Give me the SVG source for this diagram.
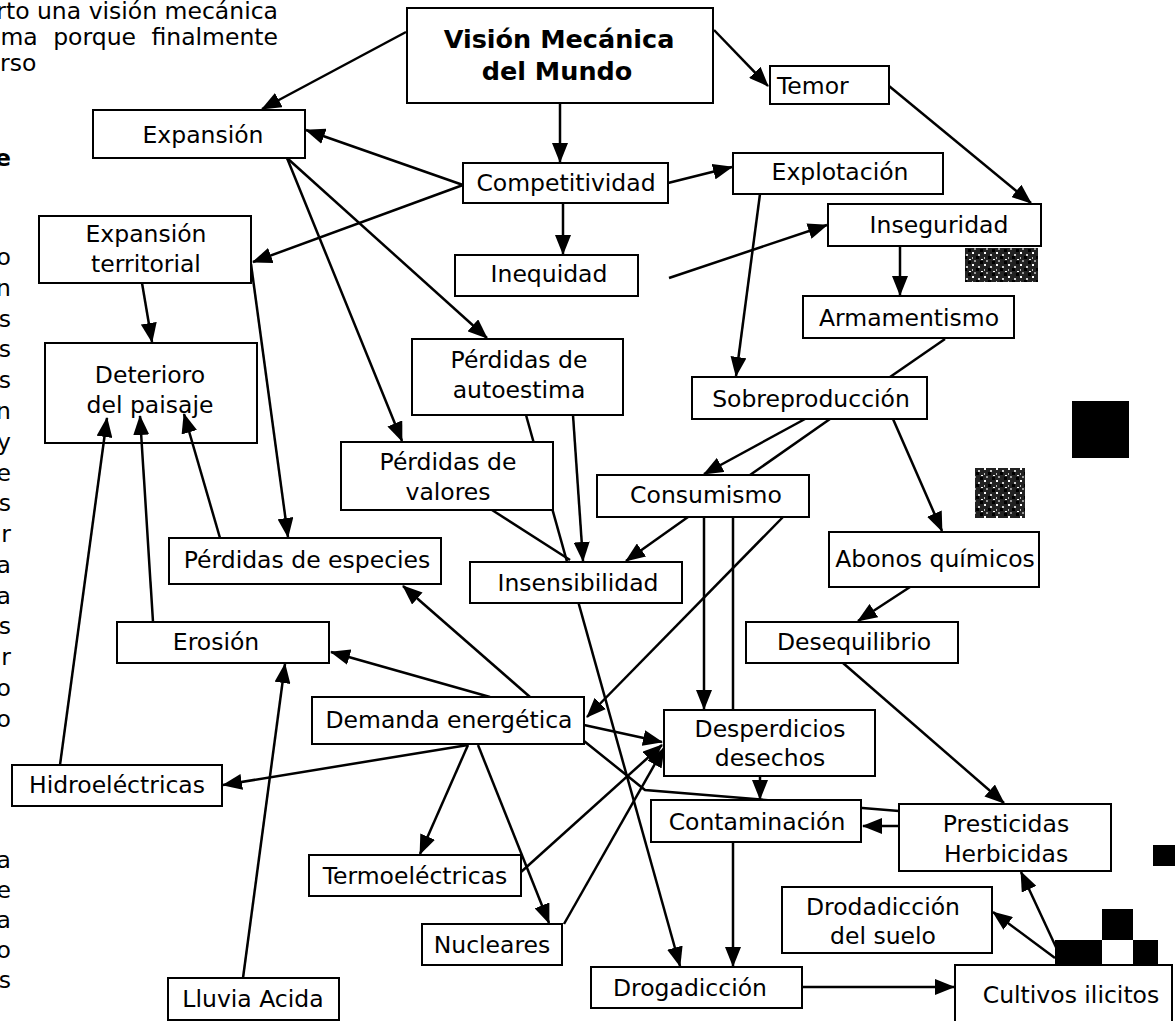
<svg xmlns="http://www.w3.org/2000/svg" width="1175" height="1021" viewBox="0 0 1175 1021">
<defs>
<marker id="ah" markerUnits="userSpaceOnUse" markerWidth="20" markerHeight="16" refX="19" refY="8" orient="auto">
<path d="M0,0 L20,8 L0,16 z" fill="#000"/>
</marker>
<pattern id="noise" width="12" height="12" patternUnits="userSpaceOnUse">
<rect width="12" height="12" fill="#222"/>
<rect x="0" y="0" width="2" height="2" fill="#fff"/>
<rect x="6" y="2" width="2" height="2" fill="#ccc"/>
<rect x="9" y="7" width="2" height="1" fill="#fff"/>
<rect x="2" y="8" width="2" height="2" fill="#999"/>
<rect x="4" y="4" width="3" height="3" fill="#000"/>
<rect x="8" y="9" width="3" height="3" fill="#000"/>
<rect x="0" y="5" width="1" height="2" fill="#bbb"/>
</pattern>
<style>
.box{fill:#fff;stroke:#000;stroke-width:2}
.open{fill:none;stroke:#000;stroke-width:2}
.t{font-family:"DejaVu Sans",Verdana,sans-serif;font-size:23.5px;text-anchor:middle;fill:#000}
.ts{font-family:"DejaVu Sans",Verdana,sans-serif;font-size:23.5px;fill:#000}
.b{font-family:"DejaVu Sans",Verdana,sans-serif;font-size:25.5px;font-weight:bold;text-anchor:middle;fill:#000}
.e{font-family:"DejaVu Sans",Verdana,sans-serif;font-size:23.5px;text-anchor:end;fill:#000}
.c{stroke:#000;stroke-width:2.5;fill:none}
.a{marker-end:url(#ah)}
</style>
</defs>
<rect width="1175" height="1021" fill="#fff"/>

<!-- cut-off page text at left -->
<g id="margin-text">
<text class="e" x="278" y="19">rto una visión mecánica</text>
<text class="e" x="278" y="45" word-spacing="8">ma porque finalmente</text>
<text class="ts" x="0" y="71">rso</text>
<text class="e" x="11" y="166" font-weight="bold">e</text>
<text class="e" x="11" y="265">o</text>
<text class="e" x="11" y="296">n</text>
<text class="e" x="11" y="327">s</text>
<text class="e" x="11" y="357">s</text>
<text class="e" x="11" y="388">s</text>
<text class="e" x="11" y="419">n</text>
<text class="e" x="11" y="450">y</text>
<text class="e" x="11" y="481">e</text>
<text class="e" x="11" y="511">s</text>
<text class="e" x="11" y="542">r</text>
<text class="e" x="11" y="573">a</text>
<text class="e" x="11" y="604">a</text>
<text class="e" x="11" y="634">s</text>
<text class="e" x="11" y="665">r</text>
<text class="e" x="11" y="696">o</text>
<text class="e" x="11" y="727">o</text>
<text class="e" x="11" y="868">a</text>
<text class="e" x="11" y="898">e</text>
<text class="e" x="11" y="928">a</text>
<text class="e" x="11" y="958">o</text>
<text class="e" x="11" y="988">s</text>
</g>

<g id="connectors">
<path class="c a" d="M406,32 L262,109"/>
<path class="c a" d="M560,103 L560,162"/>
<path class="c a" d="M714,30 L768,86"/>
<path class="c a" d="M889,86 L1031,203"/>
<path class="c a" d="M463,185 L306,130"/>
<path class="c a" d="M463,185 L253,262"/>
<path class="c a" d="M668,183 L732,167"/>
<path class="c a" d="M563,203 L563,254"/>
<path class="c a" d="M669,278 L827,225"/>
<path class="c a" d="M760,194 L736,376"/>
<path class="c a" d="M900,246 L900,295"/>
<path class="c" d="M945,339 L890,377"/>
<path class="c a" d="M805,419 L704,474"/>
<path class="c" d="M830,419 L750,475"/>
<path class="c a" d="M783,517 L587,717"/>
<path class="c a" d="M893,419 L942,531"/>
<path class="c a" d="M910,587 L858,621"/>
<path class="c a" d="M843,663 L1004,803"/>
<path class="c a" d="M688,517 L626,561"/>
<path class="c a" d="M704,517 L704,709"/>
<path class="c" d="M733,517 L733,710"/>
<path class="c a" d="M526,415 L680,966"/>
<path class="c a" d="M573,415 L583,561"/>
<path class="c" d="M492,510 L570,560"/>
<path class="c a" d="M287,158 L487,338"/>
<path class="c a" d="M287,158 L402,441"/>
<path class="c a" d="M142,283 L152,342"/>
<path class="c a" d="M251,264 L288,537"/>
<path class="c a" d="M220,538 L184,414"/>
<path class="c a" d="M153,622 L140,416"/>
<path class="c a" d="M60,765 L107,418"/>
<path class="c a" d="M530,697 L403,586"/>
<path class="c a" d="M490,697 L331,652"/>
<path class="c a" d="M243,978 L285,664"/>
<path class="c a" d="M468,745 L223,785"/>
<path class="c a" d="M468,745 L420,854"/>
<path class="c a" d="M478,745 L549,923"/>
<path class="c a" d="M584,725 L662,742"/>
<path class="c" d="M584,741 L645,790 L899,811"/>
<path class="c a" d="M760,776 L760,799"/>
<path class="c a" d="M521,872 L662,745"/>
<path class="c a" d="M564,924 L664,748"/>
<path class="c a" d="M733,842 L733,966"/>
<path class="c a" d="M802,987 L954,987"/>
<path class="c a" d="M1062,960 L1021,872"/>
<path class="c a" d="M1055,958 L993,912"/>
<path class="c a" d="M899,826 L863,826"/>
</g>

<g id="vision"><rect class="box" x="407" y="8" width="306" height="95" stroke-width="2.5"/><text class="b" x="559" y="48">Visión Mecánica</text><text class="b" x="557" y="80">del Mundo</text></g>
<g id="temor"><rect class="box" x="770" y="66" width="119" height="38"/><text class="ts" x="777" y="94">Temor</text></g>
<g id="expansion"><rect class="box" x="93" y="110" width="212" height="48"/><text class="t" x="203" y="143">Expansión</text></g>
<g id="competitividad"><rect class="box" x="463" y="163" width="205" height="40"/><text class="t" x="566" y="191">Competitividad</text></g>
<g id="explotacion"><rect class="box" x="733" y="153" width="210" height="41"/><text class="t" x="840" y="180">Explotación</text></g>
<g id="inseguridad"><rect class="box" x="828" y="204" width="213" height="42"/><text class="t" x="939" y="233">Inseguridad</text></g>
<g id="expansion-territorial"><rect class="box" x="39" y="216" width="212" height="67"/><text class="t" x="146" y="242">Expansión</text><text class="t" x="146" y="272">territorial</text></g>
<g id="inequidad"><rect class="box" x="455" y="255" width="183" height="41"/><text class="t" x="549" y="282">Inequidad</text></g>
<g id="armamentismo"><rect class="box" x="803" y="296" width="211" height="42"/><text class="t" x="909" y="326">Armamentismo</text></g>
<g id="deterioro"><rect class="open" x="45" y="343" width="212" height="100"/><text class="t" x="150" y="383">Deterioro</text><text class="t" x="150" y="413">del paisaje</text></g>
<g id="autoestima"><rect class="box" x="412" y="339" width="211" height="76"/><text class="t" x="519" y="368">Pérdidas de</text><text class="t" x="519" y="398">autoestima</text></g>
<g id="sobreproduccion"><rect class="box" x="692" y="377" width="235" height="42"/><text class="t" x="811" y="407">Sobreproducción</text></g>
<g id="valores"><rect class="box" x="341" y="442" width="212" height="68"/><text class="t" x="448" y="470">Pérdidas de</text><text class="t" x="448" y="500">valores</text></g>
<g id="consumismo"><rect class="box" x="597" y="475" width="212" height="42"/><text class="t" x="706" y="503">Consumismo</text></g>
<g id="especies"><rect class="box" x="169" y="538" width="272" height="46"/><text class="t" x="307" y="568">Pérdidas de especies</text></g>
<g id="insensibilidad"><rect class="box" x="470" y="562" width="212" height="41"/><text class="t" x="578" y="591">Insensibilidad</text></g>
<g id="abonos"><rect class="box" x="829" y="532" width="210" height="55"/><text class="t" x="935" y="567">Abonos químicos</text></g>
<g id="desequilibrio"><rect class="box" x="746" y="622" width="212" height="41"/><text class="t" x="854" y="650">Desequilibrio</text></g>
<g id="erosion"><rect class="box" x="117" y="622" width="212" height="41"/><text class="t" x="216" y="650">Erosión</text></g>
<g id="demanda"><rect class="box" x="312" y="697" width="272" height="47"/><text class="t" x="449" y="728">Demanda energética</text></g>
<g id="desperdicios"><rect class="box" x="664" y="710" width="211" height="66"/><text class="t" x="770" y="737">Desperdicios</text><text class="t" x="770" y="766">desechos</text></g>
<g id="hidroelectricas"><rect class="box" x="12" y="765" width="210" height="41"/><text class="t" x="117" y="793">Hidroeléctricas</text></g>
<g id="contaminacion"><rect class="box" x="651" y="800" width="210" height="42"/><text class="t" x="757" y="830">Contaminación</text></g>
<g id="presticidas"><rect class="box" x="899" y="804" width="212" height="67"/><text class="t" x="1006" y="832">Presticidas</text><text class="t" x="1006" y="862">Herbicidas</text></g>
<g id="termoelectricas"><rect class="box" x="309" y="855" width="212" height="41"/><text class="t" x="415" y="884">Termoeléctricas</text></g>
<g id="drodadiccion"><rect class="box" x="782" y="887" width="210" height="66"/><text class="t" x="883" y="915">Drodadicción</text><text class="t" x="883" y="944">del suelo</text></g>
<g id="nucleares"><rect class="box" x="422" y="924" width="140" height="41"/><text class="t" x="492" y="953">Nucleares</text></g>
<g id="lluvia"><rect class="box" x="168" y="978" width="171" height="42"/><text class="t" x="253" y="1007">Lluvia Acida</text></g>
<g id="drogadiccion"><rect class="box" x="591" y="967" width="211" height="41"/><text class="t" x="690" y="996">Drogadicción</text></g>
<g id="cultivos"><rect class="box" x="955" y="965" width="217" height="62"/><text class="t" x="1071" y="1003">Cultivos ilicitos</text></g>

<!-- scan marks -->
<g id="scan-marks">
<rect x="965" y="248" width="73" height="34" fill="url(#noise)"/>
<rect x="975" y="468" width="50" height="50" fill="url(#noise)"/>
<rect x="1072" y="401" width="57" height="57" fill="#000"/>
<rect x="1153" y="845" width="22" height="21" fill="#000"/>
<rect x="1055" y="940" width="47" height="25" fill="#000"/>
<rect x="1102" y="909" width="31" height="31" fill="#000"/>
<rect x="1133" y="940" width="25" height="25" fill="#000"/>
</g>
</svg>
